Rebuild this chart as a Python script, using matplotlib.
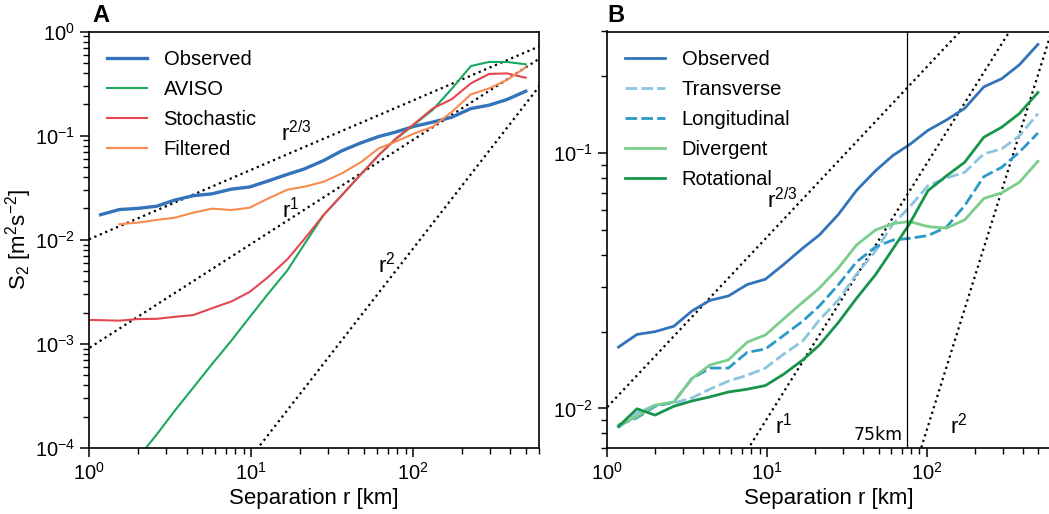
import numpy as np
import matplotlib.pyplot as plt

plt.rcParams['font.family'] = ['Liberation Sans', 'DejaVu Sans']
plt.rcParams['mathtext.fontset'] = 'custom'
plt.rcParams['mathtext.rm'] = 'Liberation Sans'
plt.rcParams['mathtext.it'] = 'Liberation Sans:italic'
plt.rcParams['mathtext.bf'] = 'Liberation Sans:bold'

# separation bins [km]
r = [1.18, 1.54, 2.0, 2.62, 3.4, 4.4, 5.75, 7.55, 9.8, 12.7, 16.8, 21.3,
     28, 36.4, 48, 61.5, 78, 102, 133, 173, 228, 295, 380, 497]
# model curves start one bin further left
r_model = [0.9] + r

# panel A
observed = [0.0174, 0.0195, 0.0200, 0.0210, 0.0241, 0.0265, 0.0276, 0.0306,
            0.0321, 0.0366, 0.0425, 0.0478, 0.0575, 0.0715, 0.0855, 0.098,
            0.108, 0.123, 0.135, 0.150, 0.182, 0.196, 0.222, 0.267]
aviso = [1.6e-5, 2.9e-5, 4.8e-5, 8e-5, 1.35e-4, 2.3e-4, 3.8e-4, 6.4e-4, 1.07e-3,
         1.8e-3, 3.0e-3, 5.1e-3, 9e-3, 0.0172, 0.0268, 0.043, 0.065, 0.092,
         0.128, 0.178, 0.28, 0.466, 0.51, 0.51, 0.484]
stochastic = [1.7e-3, 1.69e-3, 1.67e-3, 1.73e-3, 1.74e-3, 1.82e-3, 1.89e-3,
              2.2e-3, 2.55e-3, 3.15e-3, 4.35e-3, 6.5e-3, 0.0101, 0.0172,
              0.0268, 0.043, 0.0648, 0.093, 0.13, 0.183, 0.223, 0.318, 0.391,
              0.396, 0.36]
filtered = [np.nan, 0.0141, 0.0146, 0.0155, 0.0163, 0.0182, 0.0199, 0.0193,
            0.0203, 0.0248, 0.0303, 0.0323, 0.036, 0.0434, 0.056, 0.0755,
            0.0874, 0.105, 0.122, 0.168, 0.249, 0.284, 0.342, 0.453]

# panel B
transverse = [8.4e-3, 9.6e-3, 0.0103, 0.0105, 0.011, 0.0119, 0.0128, 0.0135,
              0.0144, 0.0163, 0.0184, 0.0222, 0.0266, 0.0336, 0.0415, 0.0528,
              0.0614, 0.0747, 0.080, 0.0842, 0.0995, 0.104, 0.117, 0.143]
longitudinal = [8.6e-3, 9.2e-3, 0.0102, 0.0106, 0.0131, 0.0144, 0.0144, 0.0166,
                0.0171, 0.0193, 0.022, 0.0252, 0.0305, 0.0375, 0.043, 0.0457,
                0.0464, 0.0476, 0.0513, 0.0624, 0.081, 0.0881, 0.101, 0.12]
divergent = [8.6e-3, 9.3e-3, 0.0103, 0.0106, 0.0131, 0.0148, 0.0155, 0.0182,
             0.0194, 0.0224, 0.0261, 0.0296, 0.0355, 0.0437, 0.0501, 0.053,
             0.054, 0.0516, 0.0509, 0.0548, 0.0665, 0.070, 0.0769, 0.093]
rotational = [8.5e-3, 9.97e-3, 9.42e-3, 0.0102, 0.0107, 0.0111, 0.0116, 0.0119,
              0.0123, 0.0136, 0.0155, 0.0177, 0.0217, 0.027, 0.0335, 0.0422,
              0.0528, 0.0714, 0.0815, 0.0922, 0.1156, 0.1265, 0.143, 0.173]

# power law guide lines: S2 = coef * r**power
guide_power = [2 / 3, 1, 2]
guide_coef = [0.0101, 9.1e-4, 8.2e-7]
r_cut = 75  # km

c_obs = '#3373b9'

fig = plt.figure(figsize=(10.49, 5.14), dpi=100)
axA = fig.add_axes([89 / 1049, 66 / 514, 450 / 1049, 416.5 / 514])
axB = fig.add_axes([607 / 1049, 66 / 514, 444 / 1049, 416.5 / 514])

r_line = np.array([0.5, 1000])
for ax in (axA, axB):
    for p, c in zip(guide_power, guide_coef):
        ax.plot(r_line, c * r_line ** p, ':', color='black', lw=1.6)

# --- A ---
axA.plot(r, observed, color=c_obs, lw=2.4, label='Observed')
axA.plot(r_model, aviso, color='#1aa760', lw=1.5, label='AVISO')
axA.plot(r_model, stochastic, color='#e5474f', lw=1.5, label='Stochastic')
axA.plot(r, filtered, color='#f98b4f', lw=1.5, label='Filtered')
axA.set_ylim(1e-4, 1)
axA.set_ylabel(r'S$_2$ [m$^2$s$^{-2}$]', fontsize=16)
axA.yaxis.set_label_coords(-0.122, 0.5)
axA.text(15.3, 0.0887, r'r$^{2/3}$', fontsize=16)
axA.text(15.5, 0.0165, r'r$^{1}$', fontsize=16)
axA.text(60.8, 4.9e-3, r'r$^{2}$', fontsize=16)

# --- B ---
axB.plot(r, observed, color=c_obs, lw=2, label='Observed')
axB.plot(r, transverse, color='#8cc4e0', lw=2, ls=(0, (4.2, 1.5)), label='Transverse')
axB.plot(r, longitudinal, color='#2b9ac8', lw=2, ls=(0, (4.2, 1.5)), label='Longitudinal')
axB.plot(r, divergent, color='#7acd8a', lw=2, label='Divergent')
axB.plot(r, rotational, color='#17954b', lw=2, label='Rotational')
axB.axvline(r_cut, color='black', lw=0.9)
axB.set_ylim(0.007, 0.3)
axB.text(10, 0.0607, r'r$^{2/3}$', fontsize=16)
axB.text(11.3, 7.97e-3, r'r$^{1}$', fontsize=16)
axB.text(140, 7.97e-3, r'r$^{2}$', fontsize=16)
axB.text(r_cut / 1.06, 7.5e-3, '75km', fontsize=12.5, family='DejaVu Sans', ha='right')

for ax in (axA, axB):
    ax.set_xscale('log')
    ax.set_yscale('log')
    ax.set_xlim(1, 600)
    ax.set_xlabel('Separation r [km]', fontsize=16, labelpad=3)
    ax.tick_params(which='major', length=6.5, width=1.1, labelsize=14.5, direction='out')
    ax.tick_params(which='minor', length=4.5, width=1.0, direction='out')
    for s in ax.spines.values():
        s.set_linewidth(1.2)
    ax.legend(loc='upper left', frameon=False, fontsize=14.5, handlelength=2.0,
              handletextpad=0.8, labelspacing=0.55, borderaxespad=0.5)

fig.text(92 / 1049, 1 - 16 / 514, 'A', fontsize=17, fontweight='bold', va='center')
fig.text(607 / 1049, 1 - 15.5 / 514, 'B', fontsize=17, fontweight='bold', va='center')

fig.savefig('out.png', dpi=100)
